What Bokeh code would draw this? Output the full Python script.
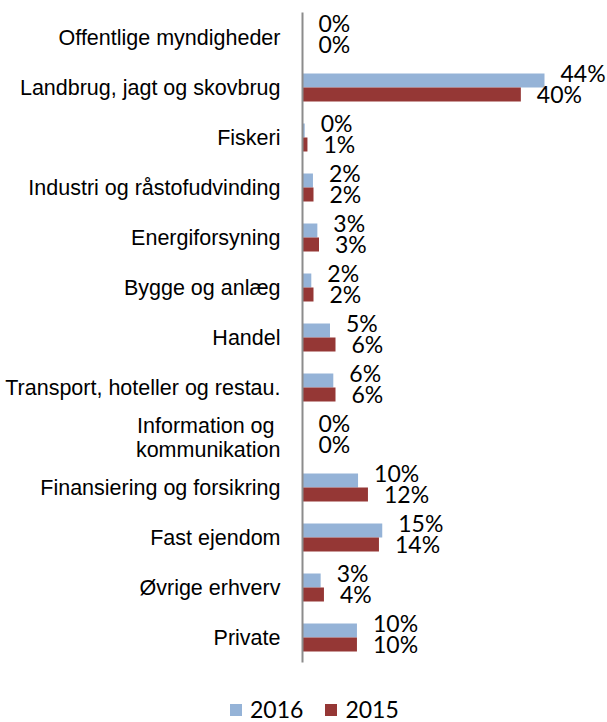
from bokeh.plotting import figure
from bokeh.models import ColumnDataSource, Range1d, Legend, LegendItem, FixedTicker
from bokeh.core.properties import value
from bokeh.embed import file_html
from bokeh.resources import INLINE

categories = ["Offentlige myndigheder", "Landbrug, jagt og skovbrug", "Fiskeri",
              "Industri og råstofudvinding", "Energiforsyning", "Bygge og anlæg",
              "Handel", "Transport, hoteller og restau.", "Information og\u00a0\nkommunikation",
              "Finansiering og forsikring", "Fast ejendom", "Øvrige erhverv", "Private"]
v2016 = [0, 44, 0.4, 1.9, 2.7, 1.6, 5.0, 5.6, 0, 10.1, 14.5, 3.3, 9.9]
v2015 = [0, 39.7, 0.9, 2.0, 3.0, 2.0, 6.0, 6.0, 0, 11.9, 13.9, 3.9, 9.9]
lab2016 = ["0%", "44%", "0%", "2%", "3%", "2%", "5%", "6%", "0%", "10%", "15%", "3%", "10%"]
lab2015 = ["0%", "40%", "1%", "2%", "3%", "2%", "6%", "6%", "0%", "12%", "14%", "4%", "10%"]

C2016 = "#95B3D7"
C2015 = "#953735"

n = len(categories)
pos = [n - 1 - i for i in range(n)]          # top category highest
pos16 = [y + 0.14 for y in pos]
pos15 = [y - 0.14 for y in pos]

src = ColumnDataSource(dict(pos=pos, y16=pos16, y15=pos15, v16=v2016, v15=v2015,
                            l16=lab2016, l15=lab2015))

W, H = 607, 722
AXIS_X = 302
PX_PER_PCT = 5.5
p = figure(width=W, height=H, output_backend="svg", toolbar_location=None,
           x_range=Range1d(-AXIS_X / PX_PER_PCT, (W - AXIS_X) / PX_PER_PCT),
           y_range=Range1d(n - 0.5 + 12 / 50 - H / 50, n - 0.5 + 12 / 50),
           min_border_left=0, min_border_right=0, min_border_top=0, min_border_bottom=0)
p.outline_line_color = None
p.xgrid.grid_line_color = None
p.ygrid.grid_line_color = None
p.xaxis.visible = False
p.background_fill_color = None
p.border_fill_color = "white"

r16 = p.hbar(y="y16", right="v16", left=0, height=0.28, source=src,
             fill_color=C2016, line_color=None)
r15 = p.hbar(y="y15", right="v15", left=0, height=0.28, source=src,
             fill_color=C2015, line_color=None)

p.text(x="v16", y="y16", text="l16", source=src,
       x_offset=16, y_offset=-8, text_baseline="middle", text_align="left",
       text_font=value("Lato"), text_font_size="23px", text_color="#000000")
p.text(x="v15", y="y15", text="l15", source=src,
       x_offset=16, y_offset=-1, text_baseline="middle", text_align="left",
       text_font=value("Lato"), text_font_size="23px", text_color="#000000")

ax = p.yaxis[0]
ax.fixed_location = 0
ax.ticker = FixedTicker(ticks=pos)
ax.major_label_overrides = {float(y): c for y, c in zip(pos, categories)}
ax.bounds = (-0.5, n - 0.5)
ax.axis_line_color = "#8c8c8c"
ax.axis_line_width = 2
ax.major_tick_line_color = None
ax.minor_tick_line_color = None
ax.major_tick_out = 0
ax.major_tick_in = 0
ax.major_label_standoff = 22
ax.major_label_text_font = "Liberation Sans"
ax.major_label_text_font_size = "21.5px"
ax.major_label_text_line_height = 1.0
ax.major_label_text_color = "#000000"

legend = Legend(items=[LegendItem(label="2016", renderers=[r16]),
                       LegendItem(label="2015", renderers=[r15])],
                orientation="horizontal", location=(228, -1),
                glyph_width=15, glyph_height=15, label_standoff=7, spacing=20,
                label_text_font="Lato", label_text_font_size="23px",
                label_text_color="#000000",
                padding=0, margin=0, border_line_color=None, background_fill_alpha=0)
p.add_layout(legend, "center")

open("out.html", "w").write(file_html(p, INLINE))
